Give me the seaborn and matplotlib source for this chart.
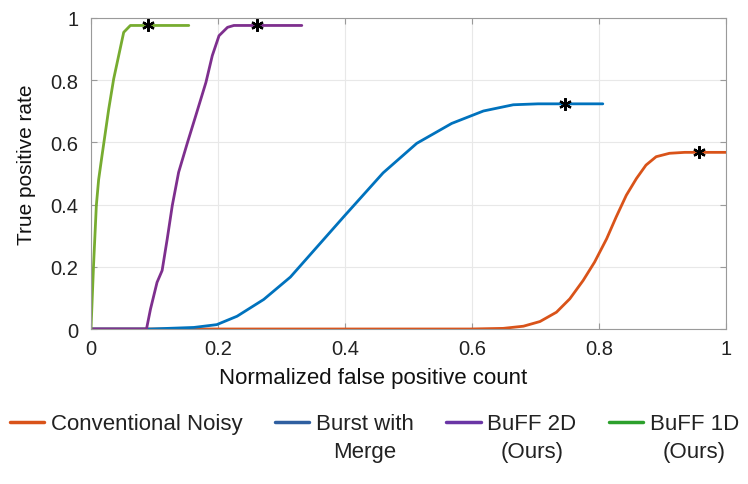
import numpy as np
import pandas as pd
import seaborn as sns
import matplotlib.pyplot as plt
from matplotlib.lines import Line2D

# ---- data ----
noisy_x = [0.0, 0.597, 0.649, 0.681, 0.707, 0.733, 0.754, 0.775, 0.793, 0.812, 0.827,
           0.843, 0.859, 0.874, 0.890, 0.911, 0.935, 1.0]
noisy_y = [0.0, 0.0, 0.002, 0.009, 0.024, 0.054, 0.097, 0.156, 0.215, 0.290, 0.360,
           0.430, 0.484, 0.527, 0.554, 0.565, 0.568, 0.568]

burst_x = [0.0, 0.094, 0.162, 0.198, 0.230, 0.272, 0.314, 0.356, 0.398, 0.460, 0.513,
           0.568, 0.618, 0.665, 0.704, 0.806]
burst_y = [0.0, 0.0, 0.005, 0.014, 0.041, 0.095, 0.167, 0.264, 0.361, 0.502, 0.597,
           0.661, 0.701, 0.721, 0.724, 0.724]

buff2d_x = [0.0, 0.0874, 0.0937, 0.104, 0.112, 0.120, 0.128, 0.138, 0.152, 0.165, 0.181,
            0.191, 0.2016, 0.215, 0.225, 0.332]
buff2d_y = [0.0, 0.0, 0.064, 0.150, 0.188, 0.289, 0.397, 0.504, 0.600, 0.686, 0.793,
            0.879, 0.943, 0.970, 0.976, 0.976]

buff1d_x = [0.0, 0.004, 0.0084, 0.012, 0.0173, 0.0279, 0.0357, 0.0436, 0.0515, 0.062, 0.154]
buff1d_y = [0.0, 0.204, 0.397, 0.480, 0.557, 0.707, 0.804, 0.879, 0.954, 0.976, 0.976]

# operating points (asterisks)
star_x = [0.957, 0.746, 0.262, 0.0905]
star_y = [0.568, 0.724, 0.976, 0.976]

methods = ["Conventional Noisy", "Burst with Merge", "BuFF 2D (Ours)", "BuFF 1D (Ours)"]
line_colors = ["#D95319", "#0072BD", "#7E2F8E", "#77AC30"]
legend_colors = ["#D95319", "#2F5FA0", "#6A35A5", "#2CA02C"]
legend_first = ["Conventional Noisy", "Burst with", "BuFF 2D", "BuFF 1D"]
legend_second = ["", "Merge", "(Ours)", "(Ours)"]

frames = []
for name, xs, ys in zip(methods,
                        [noisy_x, burst_x, buff2d_x, buff1d_x],
                        [noisy_y, burst_y, buff2d_y, buff1d_y]):
    frames.append(pd.DataFrame({"fp": xs, "tpr": ys, "method": name}))
df = pd.concat(frames, ignore_index=True)

sns.set_style("whitegrid")
plt.rcParams['font.family'] = ['Liberation Sans', 'DejaVu Sans']

fig = plt.figure(figsize=(7.48, 4.85), dpi=100)
ax = fig.add_axes([91 / 748, 1 - 330 / 485, 635 / 748, 311 / 485])

sns.lineplot(data=df, x="fp", y="tpr", hue="method", palette=line_colors,
             hue_order=methods, estimator=None, sort=False, linewidth=2.0,
             legend=False, ax=ax)
ax.plot(star_x, star_y, linestyle="none", marker=(6, 2, 0), color="black",
        markersize=9, markeredgewidth=1.6, zorder=5)

ax.set_xlim(0, 1)
ax.set_ylim(0, 1)
ticks = [0, 0.2, 0.4, 0.6, 0.8, 1]
labels = ["0", "0.2", "0.4", "0.6", "0.8", "1"]
ax.set_xticks(ticks)
ax.set_xticklabels(labels)
ax.set_yticks(ticks)
ax.set_yticklabels(labels)
ax.tick_params(direction="in", length=4, width=0.8, color="#9a9a9a",
               labelsize=14.5, labelcolor="#222222",
               top=True, right=True, bottom=True, left=True)
ax.tick_params(axis="x", pad=7)
ax.tick_params(axis="y", pad=9)
ax.grid(True, color="#e8e8e8", linewidth=0.8)
for s in ax.spines.values():
    s.set_visible(True)
    s.set_color("#9a9a9a")
    s.set_linewidth(0.8)
ax.set_xlabel("Normalized false positive count", fontsize=16, color="#111111")
ax.set_ylabel("True positive rate", fontsize=15, color="#111111")
ax.xaxis.set_label_coords((373 - 91) / 635, (330 - 368) / 311)
ax.yaxis.set_label_coords((36 - 91) / 635, (330 - 165) / 311)

handles = [Line2D([], [], color=c, linewidth=2.5) for c in legend_colors]
leg = fig.legend(handles, legend_first, loc="center left", ncol=4,
                 bbox_to_anchor=(10 / 748, 1 - 425 / 485), frameon=False,
                 fontsize=16, handlelength=1.55, handletextpad=0.3,
                 columnspacing=1.45, borderaxespad=0, borderpad=0)
for t in leg.get_texts():
    t.set_color("#222222")
for t, extra in zip(leg.get_texts(), legend_second):
    if extra:
        fig.add_artist(plt.Annotation(extra, xy=(0.5, 0), xycoords=t,
                                      xytext=(0, -5), textcoords="offset points",
                                      ha="center", va="top", fontsize=16,
                                      color="#222222", zorder=10))

fig.savefig("out.png", dpi=100)
